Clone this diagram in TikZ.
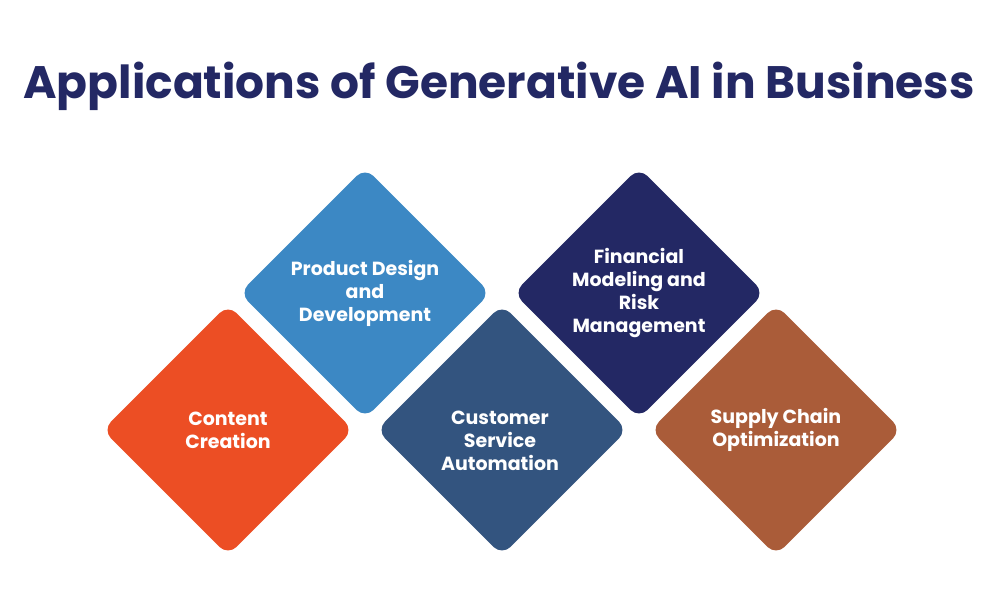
\documentclass[tikz,border=0pt]{standalone}
\usepackage{fontspec}
\setmainfont{Poppins}
\usetikzlibrary{shapes.geometric}
\definecolor{cOrange}{HTML}{EC4E24}
\definecolor{cBlue}{HTML}{3C88C4}
\definecolor{cSteel}{HTML}{33547F}
\definecolor{cNavy}{HTML}{232864}
\definecolor{cBrown}{HTML}{AA5C39}
\tikzset{
  dia/.style={diamond, minimum width=251pt, minimum height=251pt, inner sep=0pt, rounded corners=12pt,
    text=white, align=center, font=\fontsize{19}{23}\selectfont\bfseries}
}
\begin{document}
\begin{tikzpicture}[x=1pt,y=-1pt]
\useasboundingbox[fill=white] (0,0) rectangle (1004,591);
\node[text=cNavy, font=\fontsize{45.5}{50}\selectfont\bfseries] (title) at (499,86) {Applications of Generative AI in Business};
\node[dia, fill=cOrange] (cc) at (228,430) {Content\\Creation};
\node[dia, fill=cBlue] (pd) at (365,293) {Product Design\\and\\Development};
\node[dia, fill=cSteel] (cs) at (502,430) {};
\node[text=white, align=center, font=\fontsize{19}{23}\selectfont\bfseries] (cst) at (500,441) {Customer\\Service\\Automation};
\node[dia, fill=cNavy] (fm) at (639,293) {Financial\\Modeling and\\Risk\\Management};
\node[dia, fill=cBrown] (sc) at (776,430) {Supply Chain\\Optimization};
\end{tikzpicture}
\end{document}
